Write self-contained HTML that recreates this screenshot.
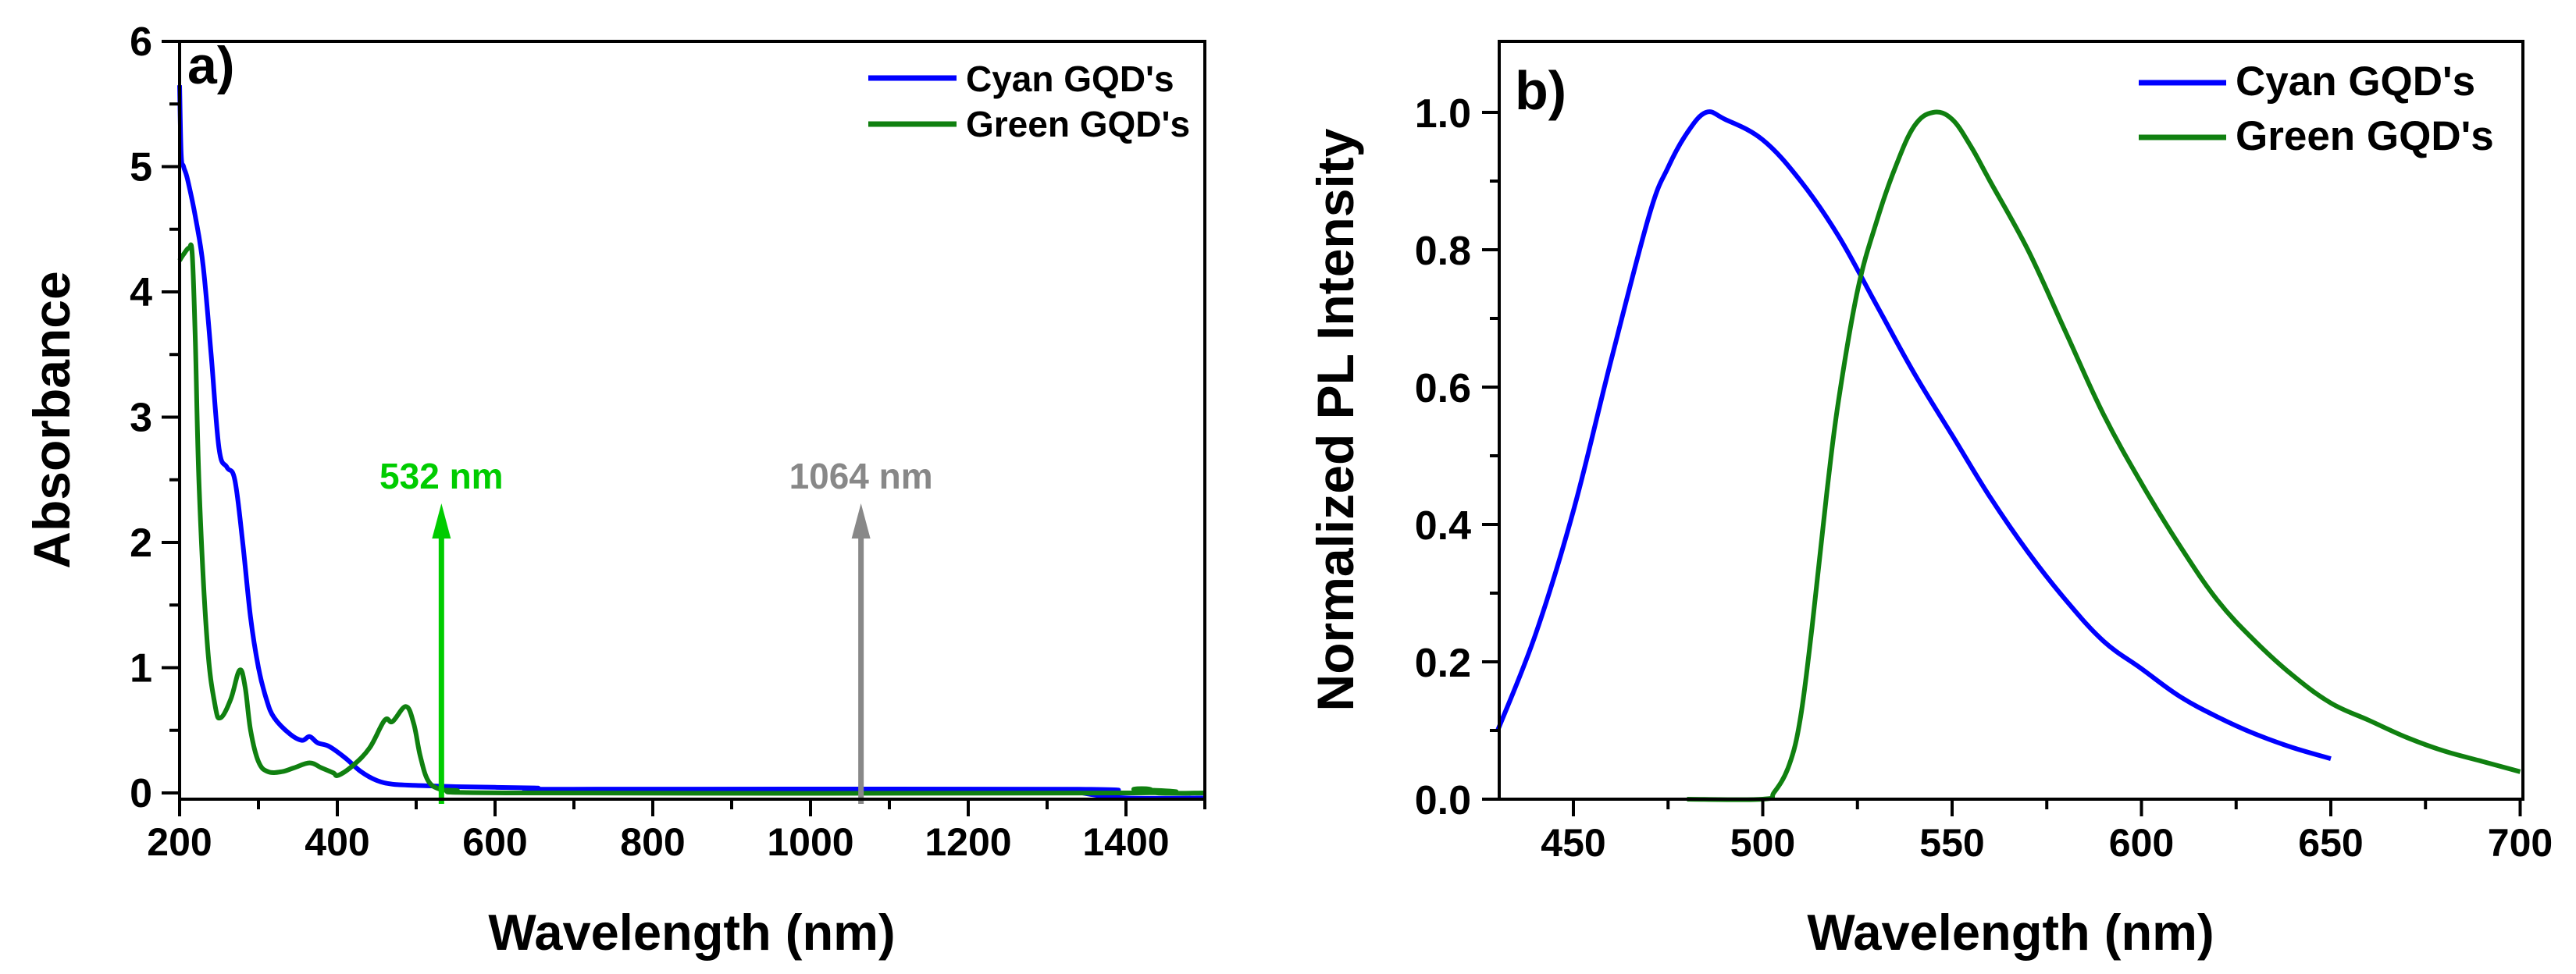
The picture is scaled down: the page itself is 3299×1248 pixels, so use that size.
<!DOCTYPE html>
<html><head><meta charset="utf-8"><style>
html,body{margin:0;padding:0;background:#fff;}
svg{display:block;font-family:"Liberation Sans",Arial,sans-serif;font-weight:bold;}
</style></head><body>
<svg id="fig" width="3299" height="1248" viewBox="0 0 3299 1248" xmlns="http://www.w3.org/2000/svg"></svg>
<script>
// ---- Panel a data ----
const cyanAbsWl = [200,202,205,210,220,230,240,250,260,270,280,290,300,310,320,340,355,365,375,390,410,430,450,470,500,550,650,700,1340,1345,1400,1500];
const cyanAbsVal = [5.65,5.1,5.0,4.9,4.6,4.2,3.5,2.75,2.6,2.5,2.0,1.4,1.0,0.75,0.6,0.47,0.42,0.45,0.4,0.37,0.28,0.17,0.1,0.07,0.06,0.05,0.04,0.03,0.03,0.0,-0.04,-0.04];
const greenAbsWl = [200,205,212,216,220,225,235,245,252,265,276,283,290,300,312,330,345,365,380,395,401,420,441,460,470,487,497,505,515,530,550,630,1400,1410,1430,1440,1500];
const greenAbsVal = [4.25,4.3,4.35,4.3,3.6,2.4,1.2,0.7,0.6,0.75,0.98,0.85,0.5,0.25,0.17,0.17,0.2,0.24,0.2,0.16,0.14,0.22,0.36,0.58,0.57,0.69,0.55,0.3,0.1,0.03,0.02,0.0,0.0,0.03,0.03,0.0,0.0];
const aXTicks = [200,400,600,800,1000,1200,1400];
const aYTicks = [0,1,2,3,4,5,6];
const laserWl = [532,1064];
const laserLabels = ["532 nm","1064 nm"];
// ---- Panel b data ----
const cyanPLWl = [430,440,450,460,470,475,480,485,490,500,510,520,530,540,550,560,570,580,590,600,610,620,630,640,650];
const cyanPLVal = [0.1,0.24,0.42,0.64,0.85,0.92,0.97,1.0,0.99,0.96,0.9,0.82,0.72,0.62,0.53,0.44,0.36,0.29,0.23,0.19,0.15,0.12,0.095,0.075,0.059];
const greenPLWl = [480,500,503,507,510,513,517,520,525,530,535,540,545,550,555,560,570,580,590,600,610,620,630,640,650,660,670,680,690,700];
const greenPLVal = [0,0,0.01,0.05,0.12,0.25,0.45,0.58,0.74,0.84,0.92,0.98,1.0,0.99,0.95,0.9,0.8,0.68,0.56,0.46,0.37,0.29,0.23,0.18,0.14,0.115,0.09,0.07,0.055,0.04];
const bXTicks = [450,500,550,600,650,700];
const bYTicks = [0,0.2,0.4,0.6,0.8,1.0];

const NS="http://www.w3.org/2000/svg";
const svg=document.getElementById('fig');
function mk(tag,attrs,parent){const e=document.createElementNS(NS,tag);for(const k in attrs)e.setAttribute(k,attrs[k]);(parent||svg).appendChild(e);return e;}

const ax=v=>230+(v-200)*1.01;
const ay=v=>1016-v*160.5;
const bx=v=>1918+(v-430)*4.85;
const by=v=>1024-v*880;

function pathD(xs,ys,fx,fy){
  const P=xs.map((w,i)=>[fx(w),fy(ys[i])]);
  let d='M'+P[0][0].toFixed(1)+' '+P[0][1].toFixed(1);
  for(let i=0;i<P.length-1;i++){
    const p0=P[i-1]||P[i],p1=P[i],p2=P[i+1],p3=P[i+2]||P[i+1];
    const t=0.18;
    const c1=[p1[0]+(p2[0]-p0[0])*t,p1[1]+(p2[1]-p0[1])*t];
    const c2=[p2[0]-(p3[0]-p1[0])*t,p2[1]-(p3[1]-p1[1])*t];
    d+=' C'+c1[0].toFixed(1)+' '+c1[1].toFixed(1)+' '+c2[0].toFixed(1)+' '+c2[1].toFixed(1)+' '+p2[0].toFixed(1)+' '+p2[1].toFixed(1);
  }
  return d;
}

// ----- Panel a -----
let g=mk('g',{});


let c=mk('path',{d:pathD(cyanAbsWl,cyanAbsVal,ax,ay),fill:'none',stroke:'#0000ff','stroke-width':6,'stroke-linejoin':'round'},g);


c=mk('path',{d:pathD(greenAbsWl,greenAbsVal,ax,ay),fill:'none',stroke:'#108010','stroke-width':6,'stroke-linejoin':'round'},g);


const laserColors=['#00cc00','#888888'];
laserWl.forEach((w,i)=>{
  const x=ax(w);
  const ar=mk('g',{},g);
  
  
  mk('line',{x1:x,y1:1030,x2:x,y2:680,stroke:laserColors[i],'stroke-width':7},ar);
  mk('polygon',{points:`${x},645 ${x-12},690 ${x+12},690`,fill:laserColors[i]},ar);
  const t=mk('text',{x:x,y:626,'text-anchor':'middle','font-size':46,fill:laserColors[i]},ar);
  t.textContent=laserLabels[i];
  
  
});
let fr=mk('rect',{x:230,y:53,width:1313,height:971,fill:'none',stroke:'#000','stroke-width':4},g);


for(let v=200;v<=1500;v+=100){const major=v%200===0;mk('line',{x1:ax(v),y1:1024,x2:ax(v),y2:major?1046:1037,stroke:'#000','stroke-width':4},g);}
aXTicks.forEach(v=>{const t=mk('text',{x:ax(v),y:1096,'text-anchor':'middle','font-size':50},g);t.textContent=v;

});
for(let v=0;v<=6;v+=0.5){const major=v%1===0;mk('line',{x1:230,y1:ay(v),x2:major?207:217,y2:ay(v),stroke:'#000','stroke-width':4},g);}
aYTicks.forEach(v=>{const t=mk('text',{x:195,y:ay(v)+18,'text-anchor':'end','font-size':52},g);t.textContent=v;

});
let t=mk('text',{x:886,y:1217,'text-anchor':'middle','font-size':65},g);t.textContent='Wavelength (nm)';


t=mk('text',{x:0,y:0,'text-anchor':'middle','font-size':66,transform:'translate(89,538) rotate(-90)'},g);t.textContent='Absorbance';


t=mk('text',{x:240,y:107,'font-size':68},g);t.textContent='a)';


let lg=mk('g',{},g);


mk('line',{x1:1112,y1:100,x2:1225,y2:100,stroke:'#0000ff','stroke-width':7},lg);
mk('line',{x1:1112,y1:159,x2:1225,y2:159,stroke:'#108010','stroke-width':7},lg);
t=mk('text',{x:1237,y:117,'font-size':46},lg);t.textContent="Cyan GQD's";


t=mk('text',{x:1237,y:175,'font-size':46},lg);t.textContent="Green GQD's";



// ----- Panel b -----
g=mk('g',{});


c=mk('path',{d:pathD(cyanPLWl,cyanPLVal,bx,by),fill:'none',stroke:'#0000ff','stroke-width':6,'stroke-linejoin':'round'},g);


c=mk('path',{d:pathD(greenPLWl,greenPLVal,bx,by),fill:'none',stroke:'#108010','stroke-width':6,'stroke-linejoin':'round'},g);


fr=mk('rect',{x:1920,y:53,width:1311,height:971,fill:'none',stroke:'#000','stroke-width':4},g);


for(let v=450;v<=700;v+=25){const major=v%50===0;mk('line',{x1:bx(v),y1:1024,x2:bx(v),y2:major?1046:1037,stroke:'#000','stroke-width':4},g);}
bXTicks.forEach(v=>{const tt=mk('text',{x:bx(v),y:1097,'text-anchor':'middle','font-size':50},g);tt.textContent=v;

});
for(let i=0;i<=10;i++){const v=i/10;const major=i%2===0;mk('line',{x1:1920,y1:by(v),x2:major?1898:1908,y2:by(v),stroke:'#000','stroke-width':4},g);}
bYTicks.forEach(v=>{const tt=mk('text',{x:1884,y:by(v)+19,'text-anchor':'end','font-size':52},g);tt.textContent=v.toFixed(1);

});
t=mk('text',{x:2575,y:1217,'text-anchor':'middle','font-size':65},g);t.textContent='Wavelength (nm)';


t=mk('text',{x:0,y:0,'text-anchor':'middle','font-size':66,transform:'translate(1733,538) rotate(-90)'},g);t.textContent='Normalized PL Intensity';


t=mk('text',{x:1940,y:140,'font-size':70},g);t.textContent='b)';


lg=mk('g',{},g);


mk('line',{x1:2739,y1:106,x2:2851,y2:106,stroke:'#0000ff','stroke-width':7},lg);
mk('line',{x1:2739,y1:176,x2:2851,y2:176,stroke:'#108010','stroke-width':7},lg);
t=mk('text',{x:2863,y:122,'font-size':53},lg);t.textContent="Cyan GQD's";


t=mk('text',{x:2863,y:192,'font-size':53},lg);t.textContent="Green GQD's";


</script>
</body></html>
